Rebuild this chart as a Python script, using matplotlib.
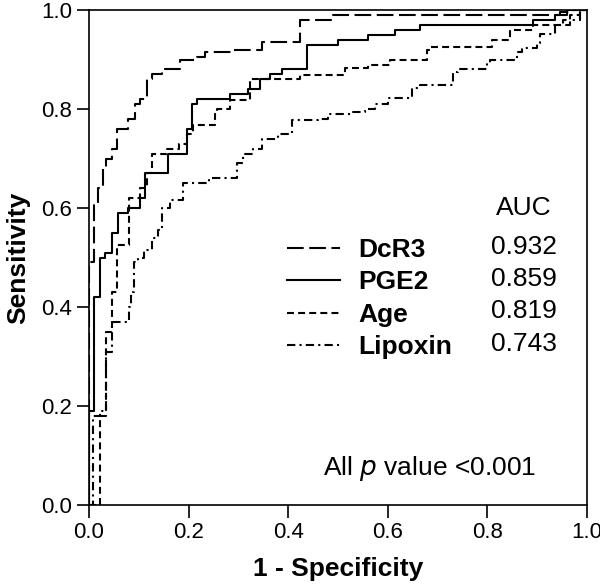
import matplotlib
matplotlib.use('Agg')
import matplotlib.pyplot as plt

plt.rcParams['font.family'] = ['Liberation Sans', 'DejaVu Sans']
plt.rcParams['lines.scale_dashes'] = False

# ROC points (1 - specificity, sensitivity after the step)
dcr3_fpr = [0, 0, 0.010, 0.018, 0.028, 0.034, 0.046, 0.056, 0.078, 0.092, 0.102,
            0.116, 0.127, 0.147, 0.183, 0.217, 0.233, 0.289, 0.347, 0.424, 0.49,
            0.946, 0.97, 1.0]
dcr3_tpr = [0, 0.49, 0.61, 0.64, 0.68, 0.70, 0.72, 0.76, 0.78, 0.81, 0.82,
            0.86, 0.87, 0.88, 0.90, 0.905, 0.915, 0.92, 0.935, 0.98, 0.99,
            0.995, 1.0, 1.0]

pge2_fpr = [0, 0, 0.010, 0.022, 0.032, 0.046, 0.058, 0.078, 0.102, 0.112, 0.159,
            0.197, 0.207, 0.217, 0.283, 0.319, 0.343, 0.363, 0.388, 0.438, 0.50,
            0.56, 0.614, 0.665, 0.892, 0.936, 0.96, 1.0]
pge2_tpr = [0, 0.19, 0.42, 0.50, 0.51, 0.55, 0.59, 0.60, 0.62, 0.67, 0.71,
            0.76, 0.81, 0.82, 0.83, 0.84, 0.86, 0.87, 0.88, 0.93, 0.94,
            0.95, 0.96, 0.97, 0.98, 0.99, 1.0, 1.0]

age_fpr = [0, 0.022, 0.034, 0.046, 0.056, 0.080, 0.102, 0.116, 0.127, 0.157, 0.18,
           0.197, 0.209, 0.253, 0.257, 0.283, 0.323, 0.424, 0.514, 0.56, 0.604,
           0.679, 0.685, 0.809, 0.845, 0.892, 0.952, 0.966, 0.986, 1.0]
age_tpr = [0, 0.18, 0.35, 0.43, 0.525, 0.62, 0.64, 0.67, 0.71, 0.72, 0.73,
           0.75, 0.768, 0.79, 0.80, 0.818, 0.86, 0.869, 0.883, 0.889, 0.899,
           0.919, 0.925, 0.939, 0.96, 0.97, 0.98, 0.99, 1.0, 1.0]

lipoxin_fpr = [0, 0.008, 0.022, 0.034, 0.046, 0.080, 0.085, 0.090, 0.098, 0.110,
               0.127, 0.139, 0.147, 0.163, 0.189, 0.24, 0.297, 0.309, 0.33, 0.347,
               0.38, 0.408, 0.46, 0.48, 0.528, 0.555, 0.574, 0.60, 0.649, 0.665,
               0.731, 0.74, 0.799, 0.805, 0.859, 0.87, 0.90, 0.905, 0.936, 0.966,
               0.986, 1.0]
lipoxin_tpr = [0, 0.18, 0.19, 0.31, 0.37, 0.40, 0.43, 0.49, 0.50, 0.515,
               0.54, 0.556, 0.60, 0.616, 0.65, 0.66, 0.69, 0.71, 0.72, 0.74,
               0.75, 0.778, 0.78, 0.79, 0.794, 0.80, 0.81, 0.822, 0.842, 0.848,
               0.875, 0.88, 0.893, 0.899, 0.915, 0.923, 0.933, 0.951, 0.97, 0.98,
               1.0, 1.0]

names = ['DcR3', 'PGE2', 'Age', 'Lipoxin']
aucs = ['0.932', '0.859', '0.819', '0.743']
dashes = [(12, 4), (), (5, 3), (6, 3, 1.5, 3)]

fig = plt.figure(figsize=(6.0, 5.87), dpi=100)
ax = fig.add_axes([89 / 600, 82 / 587, 498 / 600, 495 / 587])

curves = [(dcr3_fpr, dcr3_tpr), (pge2_fpr, pge2_tpr),
          (age_fpr, age_tpr), (lipoxin_fpr, lipoxin_tpr)]
for (fx, ty), name, d in zip(curves, names, dashes):
    ln, = ax.plot(fx, ty, color='black', lw=1.5, drawstyle='steps-post',
                  label=name)
    if d:
        ln.set_dashes(d)

ax.set_xlim(0, 1)
ax.set_ylim(0, 1)
ax.set_xticks([0, 0.2, 0.4, 0.6, 0.8, 1.0])
ax.set_yticks([0, 0.2, 0.4, 0.6, 0.8, 1.0])
ax.set_xticklabels(['0.0', '0.2', '0.4', '0.6', '0.8', '1.0'])
ax.set_yticklabels(['0.0', '0.2', '0.4', '0.6', '0.8', '1.0'])
ax.tick_params(direction='out', length=9, width=1.2, labelsize=16, pad=3)
for sp in ax.spines.values():
    sp.set_linewidth(1.2)

ax.set_xlabel('1 - Specificity', fontsize=19, fontweight='bold', labelpad=10)
ax.set_ylabel('Sensitivity', fontsize=19, fontweight='bold', labelpad=8)

leg = ax.legend(loc='upper left', bbox_to_anchor=(0.377, 0.561), frameon=False,
                prop={'size': 19, 'weight': 'bold'}, handlelength=2.0,
                handletextpad=0.68, labelspacing=0.32, borderaxespad=0)

ax.text(0.873, 0.60, 'AUC', fontsize=19, ha='center', va='center')
for i, a in enumerate(aucs):
    ax.text(0.873, 0.521 - i * 0.065, a, fontsize=19, ha='center', va='center')

ax.text(0.47, 0.073, 'All $\\it{p}$ value <0.001', fontsize=19, ha='left',
        va='center')

fig.savefig('out.png', dpi=100)
